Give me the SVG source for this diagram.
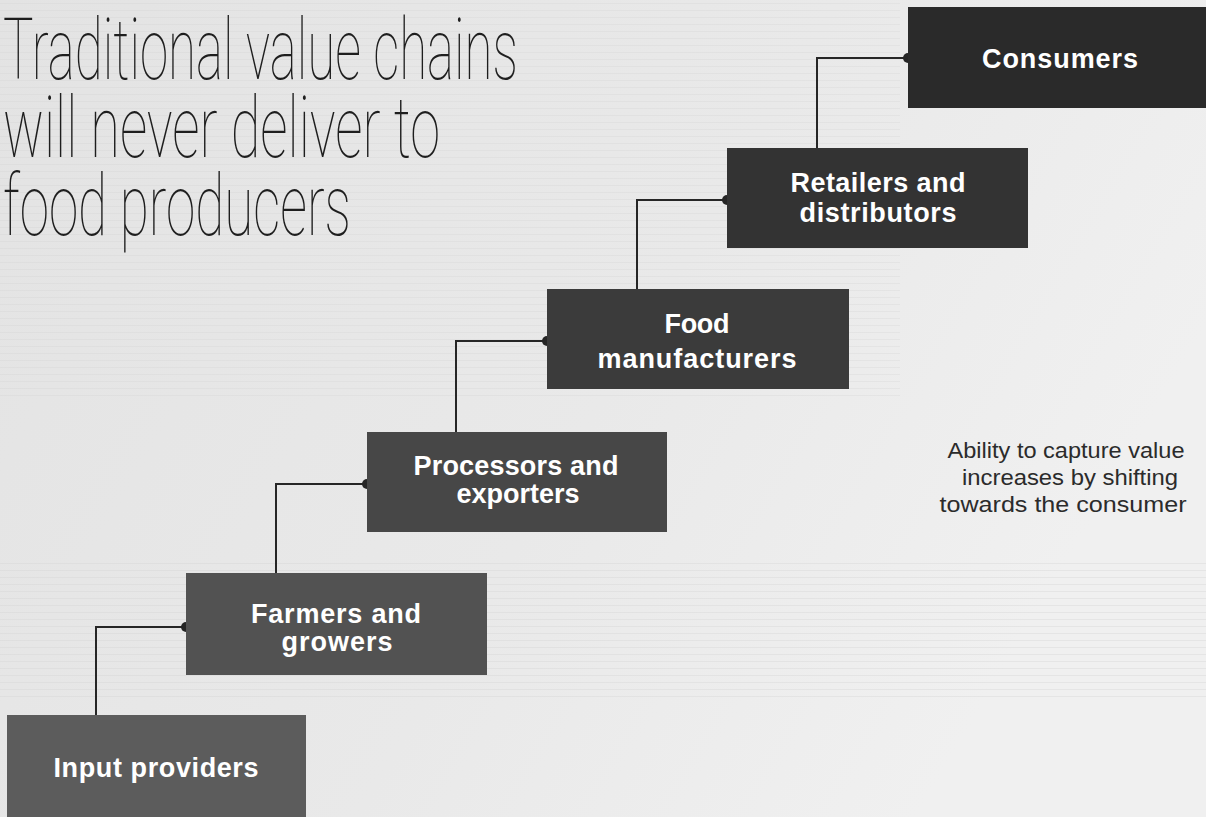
<svg xmlns="http://www.w3.org/2000/svg" width="1206" height="817" viewBox="0 0 1206 817">
  <defs>
    <linearGradient id="paper" x1="0" y1="0" x2="1" y2="0.4">
      <stop offset="0" stop-color="#e3e3e3"/>
      <stop offset="0.6" stop-color="#e9e9e9"/>
      <stop offset="1" stop-color="#f0f0f0"/>
    </linearGradient>
    <pattern id="grain" width="1206" height="7" patternUnits="userSpaceOnUse">
      <line x1="0" y1="3.5" x2="1206" y2="3.5" stroke="#d3d3d3" stroke-width="1.2" opacity="0.55"/>
    </pattern>
    <style>
      .label { font-family: "Liberation Sans", Arial, sans-serif; font-weight: bold; font-size: 27px; fill: #ffffff; text-anchor: middle; }
      .title { font-family: "Roboto", "Open Sans", sans-serif; font-weight: 100; font-size: 86px; fill: #1e1e1e; }
      .note { font-family: "Liberation Sans", Arial, sans-serif; font-size: 22px; fill: #2b2b2b; text-anchor: middle; }
      .link { fill: none; stroke: #262626; stroke-width: 2; }
      .dot { fill: #262626; }
    </style>
  </defs>

  <!-- paper background with faint print streaks -->
  <rect width="1206" height="817" fill="url(#paper)"/>
  <rect y="0" width="900" height="400" fill="url(#grain)" opacity="0.6"/>
  <rect y="560" width="1206" height="140" fill="url(#grain)" opacity="0.7"/>

  <!-- heading -->
  <g id="title">
    <text class="title">
      <tspan x="3" y="79" textLength="515" lengthAdjust="spacingAndGlyphs">Traditional value chains</tspan>
      <tspan x="3" y="157" textLength="437" lengthAdjust="spacingAndGlyphs">will never deliver to</tspan>
      <tspan x="3" y="235" textLength="348" lengthAdjust="spacingAndGlyphs">food producers</tspan>
    </text>
  </g>

  <!-- connectors between steps -->
  <g id="connectors">
    <polyline class="link" points="96,715 96,627 186,627"/>
    <circle class="dot" cx="186" cy="627" r="5"/>
    <polyline class="link" points="276,573 276,484 367,484"/>
    <circle class="dot" cx="367" cy="484" r="5"/>
    <polyline class="link" points="456,432 456,341 547,341"/>
    <circle class="dot" cx="547" cy="341" r="5"/>
    <polyline class="link" points="637,289 637,200 727,200"/>
    <circle class="dot" cx="727" cy="200" r="5"/>
    <polyline class="link" points="817,148 817,58 908,58"/>
    <circle class="dot" cx="908" cy="58" r="5"/>
  </g>

  <g id="input-providers">
    <rect x="7" y="715" width="299" height="102" fill="#5c5c5c"/>
    <text class="label" x="156" y="777" textLength="205" lengthAdjust="spacing">Input providers</text>
  </g>

  <g id="farmers">
    <rect x="186" y="573" width="301" height="102" fill="#525252"/>
    <text class="label" x="336" y="623" textLength="170" lengthAdjust="spacing">Farmers and</text>
    <text class="label" x="337" y="651" textLength="111" lengthAdjust="spacing">growers</text>
  </g>

  <g id="processors">
    <rect x="367" y="432" width="300" height="100" fill="#474747"/>
    <text class="label" x="516" y="475" textLength="205" lengthAdjust="spacing">Processors and</text>
    <text class="label" x="518" y="503" textLength="123" lengthAdjust="spacing">exporters</text>
  </g>

  <g id="manufacturers">
    <rect x="547" y="289" width="302" height="100" fill="#3b3b3b"/>
    <text class="label" x="697" y="333" textLength="65" lengthAdjust="spacing">Food</text>
    <text class="label" x="697" y="368" textLength="199" lengthAdjust="spacing">manufacturers</text>
  </g>

  <g id="retailers">
    <rect x="727" y="148" width="301" height="100" fill="#333333"/>
    <text class="label" x="878" y="192" textLength="175" lengthAdjust="spacing">Retailers and</text>
    <text class="label" x="878" y="222" textLength="157" lengthAdjust="spacing">distributors</text>
  </g>

  <g id="consumers">
    <rect x="908" y="7" width="298" height="101" fill="#2a2a2a"/>
    <text class="label" x="1060" y="68" textLength="156" lengthAdjust="spacing">Consumers</text>
  </g>

  <g id="note">
    <text class="note" x="1066" y="458" textLength="237" lengthAdjust="spacingAndGlyphs">Ability to capture value</text>
    <text class="note" x="1070" y="485" textLength="216" lengthAdjust="spacingAndGlyphs">increases by shifting</text>
    <text class="note" x="1063" y="512" textLength="247" lengthAdjust="spacingAndGlyphs">towards the consumer</text>
  </g>
</svg>
